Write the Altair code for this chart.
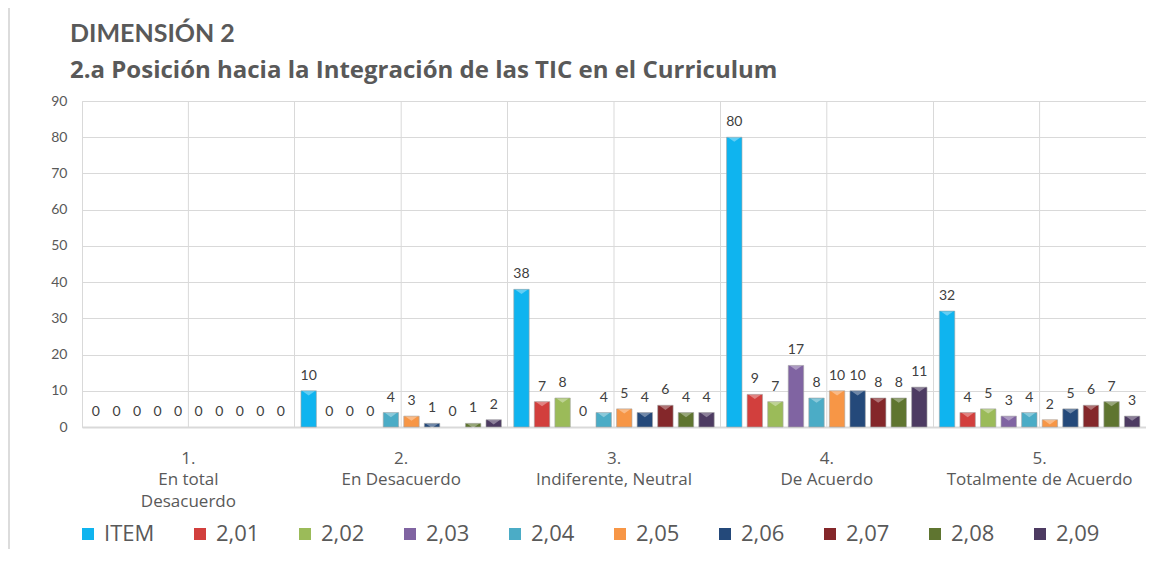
import altair as alt
import pandas as pd

categories = ["1.\nEn total\nDesacuerdo", "2.\nEn Desacuerdo", "3.\nIndiferente, Neutral",
              "4.\nDe  Acuerdo", "5.\nTotalmente de Acuerdo"]
series = ["ITEM", "2,01", "2,02", "2,03", "2,04", "2,05", "2,06", "2,07", "2,08", "2,09"]
colors = ["#0FB4EF", "#D23F3D", "#9BBB59", "#8064A2", "#4BACC6", "#F79646",
          "#24497A", "#84272A", "#5F7530", "#4D3B62"]

vals_cat1 = [0, 0, 0, 0, 0, 0, 0, 0, 0, 0]
vals_cat2 = [10, 0, 0, 0, 4, 3, 1, 0, 1, 2]
vals_cat3 = [38, 7, 8, 0, 4, 5, 4, 6, 4, 4]
vals_cat4 = [80, 9, 7, 17, 8, 10, 10, 8, 8, 11]
vals_cat5 = [32, 4, 5, 3, 4, 2, 5, 6, 7, 3]

all_vals = [vals_cat1, vals_cat2, vals_cat3, vals_cat4, vals_cat5]
rows = []
for c, vals in zip(categories, all_vals):
    for s, v in zip(series, vals):
        rows.append({"cat": c, "serie": s, "valor": v})
df = pd.DataFrame(rows)
cat_df = pd.DataFrame({"cat": categories})

FONT = "Lato"
FONT2 = "Open Sans"
GRID = "#D9D9D9"
TXT = "#595959"

x_enc = alt.X("cat:N", sort=categories,
              scale=alt.Scale(paddingInner=0, paddingOuter=0),
              axis=alt.Axis(title=None, labelExpr="split(datum.label, '\\n')",
                            labelAngle=0, labelFontSize=17, labelColor=TXT,
                            labelFont=FONT2, labelLineHeight=21.5, labelPadding=23,
                            labelBaseline="top", labelLimit=400,
                            ticks=False, tickSize=0, domainColor=GRID, domainWidth=2,
                            grid=True, gridColor=GRID, bandPosition=0))
xoff = alt.XOffset("serie:N", sort=series,
                   scale=alt.Scale(paddingInner=0.25, paddingOuter=0.3))
y_enc = alt.Y("valor:Q", scale=alt.Scale(domain=[0, 90]),
              axis=alt.Axis(title=None, values=list(range(0, 91, 10)), grid=True,
                            gridColor=GRID, domain=False, ticks=False, tickSize=0,
                            labelFontSize=14, labelColor=TXT, labelFont=FONT,
                            labelPadding=15))
color_enc = alt.Color("serie:N", sort=series,
                      scale=alt.Scale(domain=series, range=colors),
                      legend=alt.Legend(title=None, orient="none", legendX=-5, legendY=422,
                                        direction="horizontal", columns=10, padding=0,
                                        symbolType="square", symbolSize=144,
                                        symbolStrokeWidth=0,
                                        labelFontSize=22, labelColor=TXT, labelFont=FONT2,
                                        labelOffset=5, columnPadding=34))

bars = alt.Chart(df).transform_filter("datum.valor > 0").mark_bar(
    stroke="#A6A6A6", strokeWidth=0.6).encode(
    x=x_enc, xOffset=xoff, y=y_enc, color=color_enc)

bevel = alt.Chart(df).transform_filter("datum.valor > 0").mark_point(
    shape="M-1,-0.35L1,-0.35L0,0.35Z", filled=True, color="white", opacity=0.35,
    size=150, yOffset=2.5, strokeWidth=0).encode(
    x=x_enc, xOffset=xoff, y=y_enc)

labels = alt.Chart(df).mark_text(baseline="bottom", dy=-8, fontSize=14,
                                 color="#404040", font=FONT).encode(
    x=x_enc, xOffset=xoff, y=y_enc, text="valor:Q")

midlines = alt.Chart(cat_df).mark_rule(color=GRID, strokeWidth=1).encode(
    x=x_enc)

border = alt.Chart(cat_df.head(1)).mark_rule(color="#D0D0D0", strokeWidth=1.5).encode(
    x=alt.value(-73), y=alt.value(-93), y2=alt.value(448))

chart = alt.layer(midlines, bars, bevel, labels, border).properties(
    width=1064, height=326,
    title=alt.TitleParams(text="DIMENSIÓN 2",
                          subtitle="2.a Posición hacia la Integración de las TIC en el Curriculum",
                          anchor="start", frame="group", dx=-12, dy=76, offset=0,
                          fontSize=25, fontWeight="bold", color=TXT, font=FONT,
                          subtitleFont=FONT2, subtitleFontSize=24,
                          subtitleFontWeight="bold", subtitleColor=TXT,
                          subtitlePadding=12),
    autosize=alt.AutoSizeParams(type="none"),
    padding={"left": 74, "top": 93, "right": 0, "bottom": 130},
).configure_view(stroke=GRID, strokeWidth=1).configure(background="white")

chart.save("out.html", embed_options={"renderer": "svg", "actions": False})
